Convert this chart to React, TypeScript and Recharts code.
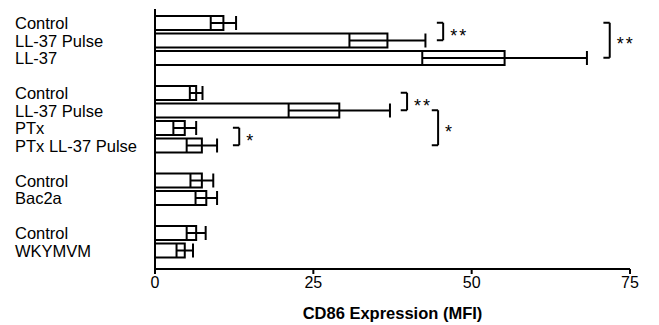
import React from 'react';
import { BarChart, Bar, XAxis, YAxis, ErrorBar, ReferenceLine } from 'recharts';

// Row ids (gaps between groups are empty rows)
const rowIds = ['g1c', 'g1p', 'g1l', 'gap1', 'g2c', 'g2p', 'g2x', 'g2xp', 'gap2', 'g3c', 'g3b', 'gap3', 'g4c', 'g4w'];
const rowLabels = ['Control', 'LL-37 Pulse', 'LL-37', '', 'Control', 'LL-37 Pulse', 'PTx', 'PTx LL-37 Pulse', '', 'Control', 'Bac2a', '', 'Control', 'WKYMVM'];
const meanValues: (number | null)[] = [10.8, 36.7, 55.2, null, 6.5, 29.1, 4.7, 7.4, null, 7.4, 8.1, null, 6.5, 4.7];
const errorValues: (number | null)[] = [2.0, 6.0, 13.0, null, 1.0, 8.0, 1.8, 2.4, null, 1.8, 1.7, null, 1.5, 1.3];
const xTicks = [0, 25, 50, 75];

// Significance brackets: [from row, to row, x position, stars]
const brackets: [string, string, number, string][] = [
  ['g1c', 'g1p', 45.5, '**'],
  ['g1c', 'g1l', 71.8, '**'],
  ['g2c', 'g2p', 39.8, '**'],
  ['g2p', 'g2xp', 44.7, '*'],
  ['g2x', 'g2xp', 13.3, '*'],
];

const data = rowIds.map((id, i) => ({
  id,
  label: rowLabels[i],
  value: meanValues[i],
  err: errorValues[i],
}));

const FONT = '"Liberation Sans", Arial, Helvetica, sans-serif';
const ARM = 1.0;

const YTick = (props: any) => {
  const { y, payload } = props;
  const idx = rowIds.indexOf(payload.value);
  return (
    <text x={15} y={y} dy="0.38em" textAnchor="start" fontSize={16.5} fontFamily={FONT} fill="#000">
      {rowLabels[idx]}
    </text>
  );
};

const starLabel = (stars: string) => (props: any) => {
  const vb = props.viewBox || {};
  const x = (vb.x || 0) + (vb.width || 0) + 7;
  const y = (vb.y || 0) + (vb.height || 0) / 2 + 10;
  return (
    <text x={x} y={y} fontSize={18} fontFamily={FONT} fill="#000" letterSpacing={2}>
      {stars}
    </text>
  );
};

export default function App() {
  return (
    <div style={{ position: 'absolute', left: 0, top: 0, background: '#fff' }}>
      <BarChart
        width={659}
        height={325}
        data={data}
        layout="vertical"
        margin={{ top: 9, right: 29, bottom: 0, left: 0 }}
        barSize={14}
      >
        <XAxis
          type="number"
          domain={[0, 75]}
          ticks={xTicks}
          allowDataOverflow
          height={56}
          axisLine={{ stroke: '#000', strokeWidth: 2 }}
          tickLine={{ stroke: '#000', strokeWidth: 2 }}
          tickSize={5}
          tickMargin={3}
          tick={{ fill: '#000', fontSize: 16, fontFamily: FONT }}
          label={{
            value: 'CD86 Expression (MFI)',
            position: 'insideBottom',
            offset: 6,
            fill: '#000',
            fontSize: 16.5,
            fontWeight: 'bold',
            fontFamily: FONT,
          }}
        />
        <YAxis
          type="category"
          dataKey="id"
          width={155}
          padding={{ top: 5, bottom: 10 }}
          axisLine={{ stroke: '#000', strokeWidth: 2 }}
          tickLine={false}
          interval={0}
          tick={<YTick />}
        />
        <Bar dataKey="value" fill="#fff" stroke="#000" strokeWidth={2} isAnimationActive={false}>
          <ErrorBar dataKey="err" direction="x" width={7} stroke="#000" strokeWidth={2} isAnimationActive={false} />
        </Bar>
        {brackets.map(([a, b, x, stars], i) => (
          <ReferenceLine
            key={`v${i}`}
            segment={[{ x, y: a }, { x, y: b }]}
            stroke="#000"
            strokeWidth={2}
            label={starLabel(stars)}
          />
        ))}
        {brackets.map(([a, , x], i) => (
          <ReferenceLine
            key={`t${i}`}
            segment={[{ x: x - ARM, y: a }, { x, y: a }]}
            stroke="#000"
            strokeWidth={2}
          />
        ))}
        {brackets.map(([, b, x], i) => (
          <ReferenceLine
            key={`b${i}`}
            segment={[{ x: x - ARM, y: b }, { x, y: b }]}
            stroke="#000"
            strokeWidth={2}
          />
        ))}
      </BarChart>
    </div>
  );
}
